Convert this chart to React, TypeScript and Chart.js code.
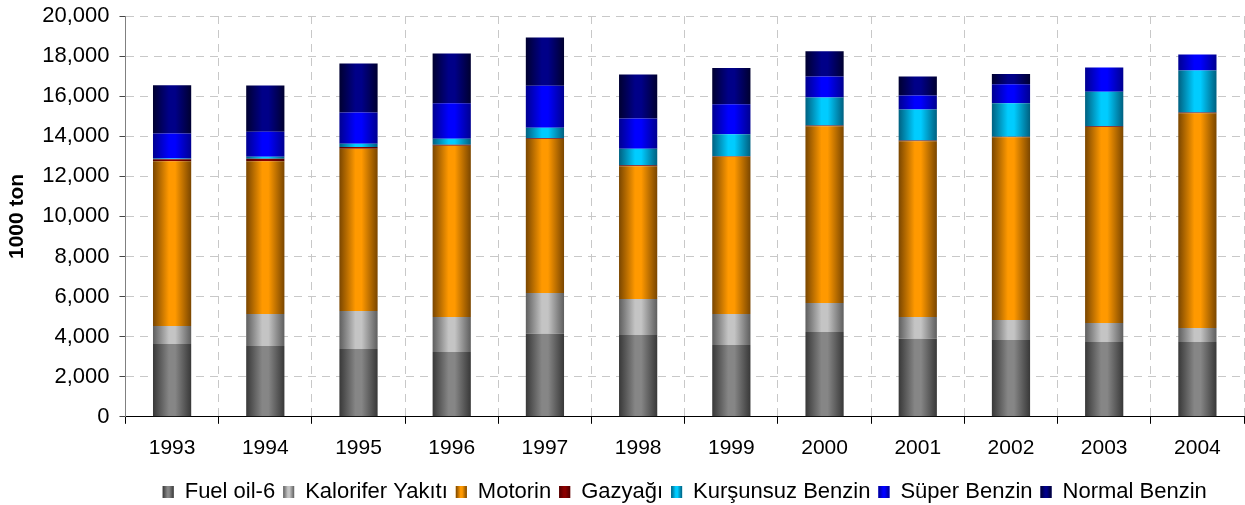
import React, { useEffect, useRef } from 'react';
import { Chart, registerables } from 'chart.js';

Chart.register(...registerables);

const years = ['1993', '1994', '1995', '1996', '1997', '1998', '1999', '2000', '2001', '2002', '2003', '2004'];

const fuelOil6 = [3630, 3530, 3380, 3230, 4150, 4080, 3580, 4230, 3900, 3830, 3730, 3730];
const kaloriferYakiti = [900, 1600, 1900, 1750, 2030, 1800, 1550, 1450, 1080, 1000, 950, 700];
const motorin = [8220, 7620, 8100, 8550, 7680, 6620, 7850, 8820, 8770, 9120, 9780, 10720];
const gazyagi = [100, 130, 80, 50, 35, 50, 20, 35, 35, 20, 35, 35];
const kursunsuzBenzin = [40, 100, 170, 300, 530, 830, 1100, 1400, 1550, 1680, 1730, 2100];
const superBenzin = [1250, 1250, 1550, 1770, 2100, 1500, 1500, 1050, 700, 950, 1200, 800];
const normalBenzin = [2400, 2300, 2450, 2480, 2400, 2200, 1800, 1250, 950, 500, 0, 0];

const seriesNames = ['Fuel oil-6', 'Kalorifer Yakıtı', 'Motorin', 'Gazyağı', 'Kurşunsuz Benzin', 'Süper Benzin', 'Normal Benzin'];
const seriesValues = [fuelOil6, kaloriferYakiti, motorin, gazyagi, kursunsuzBenzin, superBenzin, normalBenzin];
const seriesMid = ['#868686', '#c4c4c4', '#ff9900', '#8a0000', '#00ccff', '#0000ff', '#000088'];
const seriesEdge = ['#383838', '#5e5e5e', '#7a4600', '#500000', '#006080', '#000090', '#000030'];

const yTicks = [0, 2000, 4000, 6000, 8000, 10000, 12000, 14000, 16000, 18000, 20000];

const BAR_PCT = 0.41;
const FONT = "'Liberation Sans', Arial, sans-serif";

function makeGradient(g: CanvasRenderingContext2D, left: number, width: number, edge: string, mid: string) {
  const gr = g.createLinearGradient(left, 0, left + width, 0);
  gr.addColorStop(0, edge);
  gr.addColorStop(0.42, mid);
  gr.addColorStop(0.58, mid);
  gr.addColorStop(1, edge);
  return gr;
}

export default function App() {
  const ref = useRef<HTMLCanvasElement>(null);

  useEffect(() => {
    if (!ref.current) return;

    const barFill = (i: number) => (ctx: any) => {
      const chart = ctx.chart;
      const xs = chart.scales && chart.scales.x;
      if (!xs || ctx.type !== 'data' || !xs.width) return seriesMid[i];
      const center = xs.getPixelForValue(ctx.dataIndex);
      const w = (xs.width / years.length) * BAR_PCT;
      return makeGradient(chart.ctx, center - w / 2, w, seriesEdge[i], seriesMid[i]);
    };

    const legendGradient = {
      id: 'legendGradient',
      afterDraw(chart: any) {
        const lg = chart.legend;
        if (!lg || !lg.legendHitBoxes) return;
        const opts = lg.options.labels;
        const bw = opts.boxWidth;
        const bh = opts.boxHeight;
        const fs = opts.font.size;
        const g = chart.ctx;
        lg.legendHitBoxes.forEach((hb: any, i: number) => {
          const top = hb.top + Math.max((fs - bh) / 2, 0);
          g.save();
          g.fillStyle = makeGradient(g, hb.left, bw, seriesEdge[i], seriesMid[i]);
          g.fillRect(hb.left, top, bw, bh);
          g.restore();
        });
      },
    };

    const chart = new Chart(ref.current, {
      type: 'bar',
      data: {
        labels: years,
        datasets: seriesNames.map((name, i) => ({
          label: name,
          data: seriesValues[i],
          backgroundColor: barFill(i),
          borderWidth: 0,
          categoryPercentage: 1,
          barPercentage: BAR_PCT,
        })),
      },
      options: {
        animation: false,
        responsive: true,
        maintainAspectRatio: false,
        layout: { padding: { left: 0, right: 1, top: 0, bottom: -8 } },
        plugins: {
          legend: {
            position: 'bottom',
            fullSize: false,
            labels: {
              boxWidth: 11,
              boxHeight: 12,
              padding: 8,
              color: '#000',
              font: { family: FONT, size: 22 },
              generateLabels: () =>
                seriesNames.map((name, i) => ({
                  text: name,
                  fillStyle: seriesMid[i],
                  strokeStyle: seriesMid[i],
                  lineWidth: 0,
                  hidden: false,
                  datasetIndex: i,
                  fontColor: '#000',
                })),
            },
          },
          tooltip: { enabled: false },
        },
        scales: {
          x: {
            stacked: true,
            grid: {
              color: '#c8c8c8',
              offset: true,
              tickLength: 7,
              tickColor: '#000',
              tickBorderDash: [],
            },
            border: { display: true, color: '#000', width: 1, dash: [8, 6] },
            ticks: {
              color: '#000',
              padding: 12,
              font: { family: FONT, size: 21 },
            },
          },
          y: {
            stacked: true,
            min: 0,
            max: 20000,
            afterBuildTicks: (scale: any) => {
              scale.ticks = yTicks.map((v) => ({ value: v }));
            },
            afterFit: (scale: any) => {
              scale.paddingTop = 16;
            },
            grid: {
              color: '#c8c8c8',
              tickLength: 6,
              tickColor: '#444',
              tickBorderDash: [],
            },
            border: { display: true, color: '#808080', width: 1, dash: [8, 6] },
            ticks: {
              color: '#000',
              padding: 10,
              font: { family: FONT, size: 22 },
              callback: (v: any) => Number(v).toLocaleString('en-US'),
            },
            title: {
              display: true,
              text: '1000 ton',
              color: '#000',
              font: { family: FONT, size: 21, weight: 'bold' },
              padding: { top: 5, bottom: 2 },
            },
          },
        },
      },
      plugins: [legendGradient],
    });

    return () => chart.destroy();
  }, []);

  return (
    <div style={{ position: 'fixed', left: 0, top: 0, width: 1245, height: 505, background: '#fff' }}>
      <canvas ref={ref} />
    </div>
  );
}
